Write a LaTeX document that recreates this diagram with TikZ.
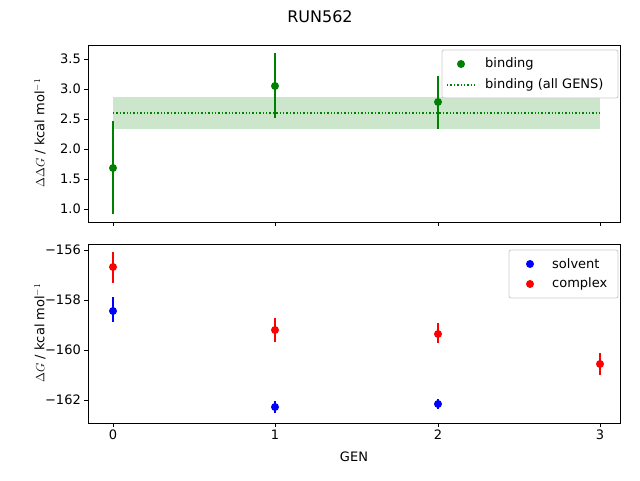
\documentclass[tikz,border=0pt]{standalone}
\usepackage{fontspec}
\setmainfont{DejaVu Sans}
\tikzset{
  axbox/.style={draw=black, line width=0.8pt},
  tck/.style={line width=0.8pt},
  errbar/.style={line width=1.5pt},
  dotmark/.style={circle, inner sep=0pt, minimum size=8pt},
  lgd/.style={draw=black!20, fill=white, fill opacity=0.8, rounded corners=2pt, line width=0.8pt},
  lbl/.style={font=\fontsize{13}{15}\selectfont, inner sep=1pt}
}
\definecolor{mplgreen}{RGB}{0,128,0}
\definecolor{mplblue}{RGB}{0,0,255}
\definecolor{mplred}{RGB}{255,0,0}
\begin{document}
\begin{tikzpicture}[x=1pt,y=-1pt]
  \useasboundingbox (0,0) rectangle (640,480);
  % title
  \node[lbl, font=\fontsize{16}{18}\selectfont] (title) at (320,17) {RUN562};

  % top panel: band and mean
  \fill[mplgreen, opacity=0.2] (113,97) rectangle (600,129);
  \draw[mplgreen, line width=1.4pt, dotted] (113,113) -- (600,113);
  % top panel: error bars and points
  \foreach \x/\ylo/\yhi/\y in {113/121/214/168, 275/53/118/86, 438/76/129/102} {
    \draw[errbar, mplgreen] (\x,\ylo) -- (\x,\yhi);
    \node[dotmark, fill=mplgreen] at (\x,\y) {};
  }
  \draw[axbox] (88,45) rectangle (620,222);
  \foreach \v/\yy in {1.0/209, 1.5/179, 2.0/149, 2.5/119, 3.0/89, 3.5/59} {
    \draw[tck] (88,\yy) -- (84,\yy);
    \node[lbl, anchor=east] at (82,\yy) {\v};
  }
  \foreach \x in {113,275,438,600} \draw[tck] (\x,222) -- (\x,226);
  \node[lbl, rotate=90] (ylabtop) at (40,133) {$\Delta\Delta G$ / kcal mol$^{-1}$};

  % top legend
  \draw[lgd] (442,50) rectangle (618,98);
  \node[dotmark, fill=mplgreen] (lgbind) at (461,64) {};
  \node[lbl, anchor=west] at (484,64) {binding};
  \coordinate (lgall) at (447,85);
  \draw[mplgreen, line width=1.4pt, dotted] (lgall) -- ++(28,0);
  \node[lbl, anchor=west] at (484,85) {binding (all GENS)};

  % bottom panel
  \foreach \x/\ylo/\yhi/\y in {113/297/322/311, 275/401/413/407, 438/399/409/404} {
    \draw[errbar, mplblue] (\x,\ylo) -- (\x,\yhi);
    \node[dotmark, fill=mplblue] at (\x,\y) {};
  }
  \foreach \x/\ylo/\yhi/\y in {113/252/283/267, 275/318/342/330, 438/323/343/334, 600/353/375/364} {
    \draw[errbar, mplred] (\x,\ylo) -- (\x,\yhi);
    \node[dotmark, fill=mplred] at (\x,\y) {};
  }
  \draw[axbox] (88,244) rectangle (620,423);
  \foreach \v/\yy in {156/250, 158/300, 160/350, 162/400} {
    \draw[tck] (88,\yy) -- (84,\yy);
    \node[lbl, anchor=east] at (82,\yy) {−\v};
  }
  \foreach \v/\x in {0/113, 1/275, 2/438, 3/600} {
    \draw[tck] (\x,423) -- (\x,427);
    \node[lbl, anchor=north] at (\x,429) {\v};
  }
  \node[lbl] (xlab) at (354,457) {GEN};
  \node[lbl, rotate=90] (ylabbot) at (40,333) {$\Delta G$ / kcal mol$^{-1}$};

  % bottom legend
  \draw[lgd] (509,250) rectangle (618,298);
  \node[dotmark, fill=mplblue] (lgsolv) at (530,264) {};
  \node[lbl, anchor=west] at (551,264) {solvent};
  \node[dotmark, fill=mplred] (lgcomp) at (530,284) {};
  \node[lbl, anchor=west] at (551,284) {complex};
\end{tikzpicture}
\end{document}
